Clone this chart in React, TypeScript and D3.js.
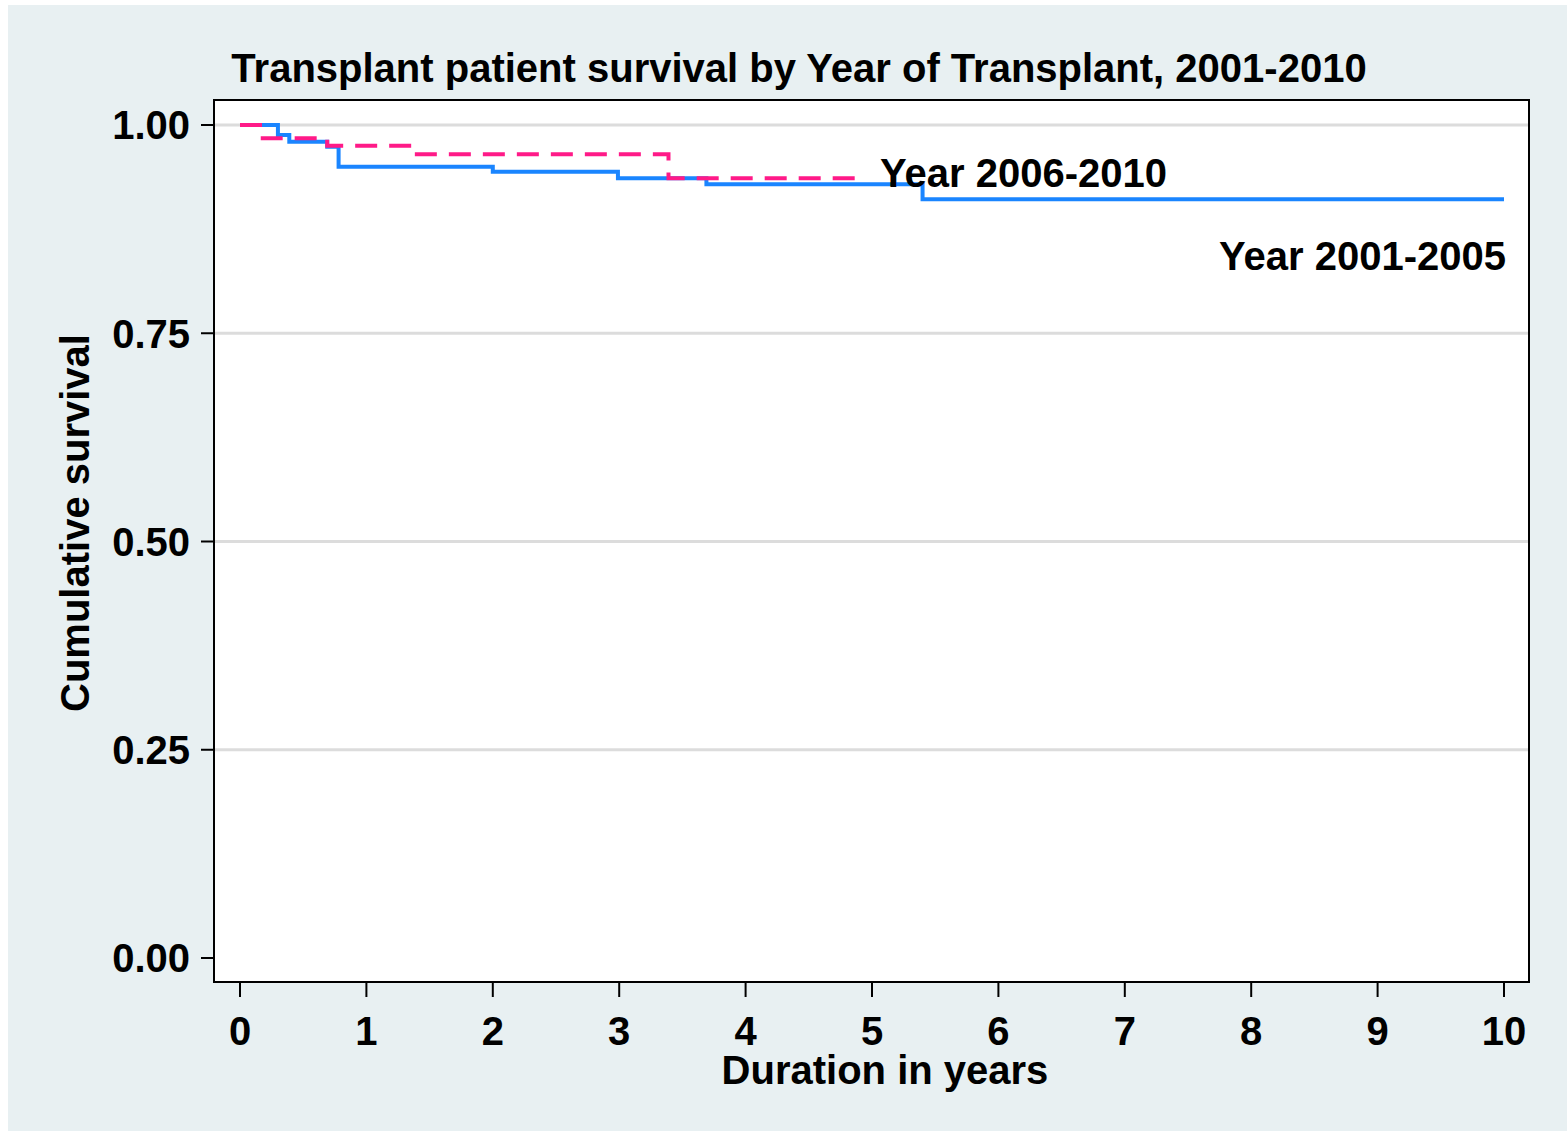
import React, { useEffect } from "react";
import * as d3 from "d3";

// Kaplan-Meier step data: [time (years), survival]
const group2001_2005: [number, number][] = [
  [0, 1.0],
  [0.3, 0.988],
  [0.39, 0.98],
  [0.69, 0.974],
  [0.78, 0.95],
  [2.0, 0.944],
  [2.99, 0.936],
  [3.69, 0.929],
  [5.4, 0.911],
  [10.0, 0.911],
];
const group2006_2010: [number, number][] = [
  [0, 1.0],
  [0.18, 0.984],
  [0.69, 0.975],
  [1.38, 0.965],
  [3.39, 0.936],
  [4.87, 0.936],
];
const xTicks = [0, 1, 2, 3, 4, 5, 6, 7, 8, 9, 10];
const yTicks = [0, 0.25, 0.5, 0.75, 1.0];
const gridTicks = [0.25, 0.5, 0.75, 1.0];
const titleText = "Transplant patient survival by Year of Transplant, 2001-2010";
const xTitle = "Duration in years";
const yTitle = "Cumulative survival";
const labelLate = "Year 2006-2010";
const labelEarly = "Year 2001-2005";

const W = 1567;
const H = 1131;
const FONT = "'Liberation Sans', Arial, Helvetica, sans-serif";

export default function App() {
  useEffect(() => {
    document.body.style.margin = "0";
    document.body.style.overflow = "hidden";
  }, []);

  const plotL = 214, plotR = 1529, plotT = 100, plotB = 982;
  const x = d3.scaleLinear().domain([0, 10]).range([240, 1504]);
  const y = d3.scaleLinear().domain([0, 1]).range([958, 125]);

  const line = d3
    .line<[number, number]>()
    .x((d) => x(d[0]))
    .y((d) => y(d[1]))
    .curve(d3.curveStepAfter);

  const fs = 40;

  return (
    <svg width={W} height={H} style={{ display: "block" }} fontFamily={FONT}>
      <rect x={0} y={0} width={W} height={H} fill="#ffffff" />
      <rect x={8} y={5} width={W - 8} height={H - 5} fill="#e8f0f2" />
      <rect x={plotL} y={plotT} width={plotR - plotL} height={plotB - plotT} fill="#ffffff" />
      {gridTicks.map((t) => (
        <line key={t} x1={plotL} x2={plotR} y1={y(t)} y2={y(t)} stroke="#dcdcdc" strokeWidth={3} />
      ))}
      <path d={line(group2001_2005) || ""} fill="none" stroke="#1a85ff" strokeWidth={4} />
      <path
        d={line(group2006_2010) || ""}
        fill="none"
        stroke="#ff1a88"
        strokeWidth={4}
        strokeDasharray="22,12"
      />
      <rect x={plotL} y={plotT} width={plotR - plotL} height={plotB - plotT} fill="none" stroke="#000" strokeWidth={2} />
      {yTicks.map((t) => (
        <g key={t}>
          <line x1={plotL - 13} x2={plotL} y1={y(t)} y2={y(t)} stroke="#000" strokeWidth={2} />
          <text x={190} y={y(t)} dy="0.36em" textAnchor="end" fontSize={fs} fontWeight="bold" fill="#000">
            {t.toFixed(2)}
          </text>
        </g>
      ))}
      {xTicks.map((t) => (
        <g key={t}>
          <line x1={x(t)} x2={x(t)} y1={plotB} y2={plotB + 15} stroke="#000" strokeWidth={2} />
          <text x={x(t)} y={1045} textAnchor="middle" fontSize={fs} fontWeight="bold" fill="#000">
            {t}
          </text>
        </g>
      ))}
      <text x={799} y={82} textAnchor="middle" fontSize={fs} fontWeight="bold" fill="#000">
        {titleText}
      </text>
      <text x={885} y={1084} textAnchor="middle" fontSize={fs} fontWeight="bold" fill="#000">
        {xTitle}
      </text>
      <text
        transform={`translate(89,523) rotate(-90)`}
        textAnchor="middle"
        fontSize={fs}
        fontWeight="bold"
        fill="#000"
      >
        {yTitle}
      </text>
      <text x={880} y={187} fontSize={fs} fontWeight="bold" fill="#000">
        {labelLate}
      </text>
      <text x={1506} y={270} textAnchor="end" fontSize={fs} fontWeight="bold" fill="#000">
        {labelEarly}
      </text>
    </svg>
  );
}
